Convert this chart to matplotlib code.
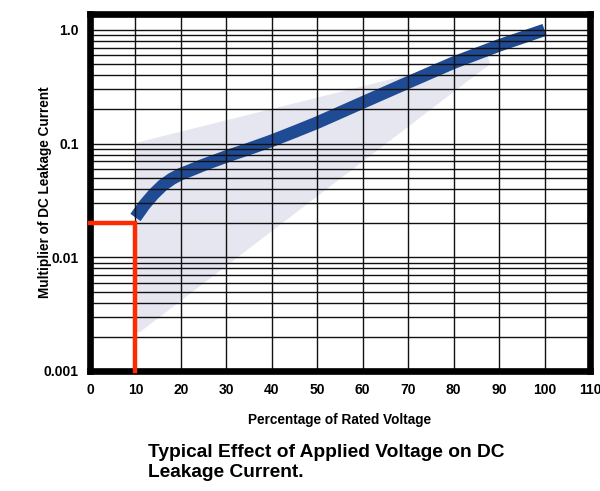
import matplotlib
matplotlib.use('Agg')
import matplotlib.pyplot as plt
from matplotlib.ticker import LogLocator, NullFormatter

plt.rcParams['font.family'] = ['Liberation Sans', 'DejaVu Sans']
plt.rcParams['font.weight'] = 'bold'

# Curve (percent of rated voltage -> multiplier)
voltage = [10, 12, 14, 16, 18, 20, 22, 25, 30, 35, 40, 45, 50, 60, 70, 80, 90, 100]
multiplier = [0.0224, 0.029, 0.036, 0.043, 0.049, 0.054, 0.058, 0.065, 0.077, 0.090, 0.106,
              0.127, 0.153, 0.230, 0.345, 0.515, 0.73, 1.0]

# Shaded spread region (polygon corners)
band_x = [10.3, 87.5, 88.0, 11.0, 10.3]
band_y = [0.102, 0.60, 0.50, 0.0022, 0.0022]

# Red marker at 10 % rated voltage
marker_x = 10
marker_y = 0.02

xticks = list(range(0, 111, 10))
yticks = [0.001, 0.01, 0.1, 1.0]
ytick_labels = ['0.001', '0.01', '0.1', '1.0']

fig = plt.figure(figsize=(6, 4.91), dpi=100)
ax = fig.add_axes([0.15, 0.2444, 0.8333, 0.7271])

ax.set_yscale('log')
ax.set_xlim(0, 110)
ax.set_ylim(0.001, 1.38)

ax.fill(band_x, band_y, color='#e6e6f1', lw=0, zorder=1)
ax.plot(voltage, multiplier, color='#1f4a94', lw=9, solid_capstyle='butt',
        solid_joinstyle='round', zorder=2)

# Graph-paper grid on top of the curve
ax.set_xticks(xticks)
ax.set_yticks(yticks)
ax.set_yticklabels(ytick_labels)
ax.yaxis.set_minor_locator(LogLocator(base=10, subs=range(2, 10)))
ax.yaxis.set_minor_formatter(NullFormatter())
ax.grid(True, which='major', axis='both', color='#111111', lw=1.0)
ax.grid(True, which='minor', axis='y', color='#111111', lw=1.0)
ax.set_axisbelow(False)
for gl in ax.get_xgridlines() + ax.get_ygridlines():
    gl.set_zorder(3)

# Red guide lines
ax.plot([0, marker_x, marker_x], [marker_y, marker_y, 0.001], color='#ff2a00', lw=3.2,
        solid_joinstyle='miter', zorder=6, clip_on=False)

for s in ax.spines.values():
    s.set_linewidth(4.8)
    s.set_color('black')
    s.set_zorder(5)

ax.tick_params(which='both', length=0)
ax.tick_params(axis='x', pad=9, labelsize=10)
ax.tick_params(axis='y', pad=8, labelsize=10)
for lab in ax.get_xticklabels() + ax.get_yticklabels():
    lab.set_fontweight('bold')

ax.set_xlabel('Percentage of Rated Voltage', fontsize=9.8, fontweight='bold', labelpad=11)
ax.set_ylabel('Multiplier of DC Leakage Current', fontsize=9.8, fontweight='bold', labelpad=-6)

fig.text(0.247, 0.058, 'Typical Effect of Applied Voltage on DC\nLeakage Current.',
         fontsize=13.8, fontweight='bold', ha='left', va='center', linespacing=1.25)

fig.savefig('out.png', dpi=100)
